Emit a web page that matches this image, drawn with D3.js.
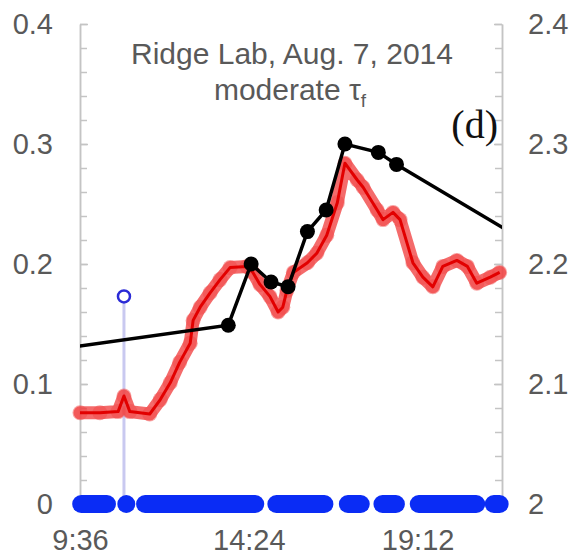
<!DOCTYPE html>
<html>
<head>
<meta charset="utf-8">
<script src="https://cdn.jsdelivr.net/npm/d3@7"></script>
<style>
    body { margin: 0; background: #fff; }
    svg { display: block; font-family: "Liberation Sans", Arial, sans-serif; }
</style>
</head>
<body>
<div class="chart"></div>
<script>
/*-------------------------------data-------------------------------*/

// red trace, left axis
const redTimes = ["9:36", "10:10", "10:41", "10:51", "11:01", "11:35", "11:53", "12:10", "12:26", "12:44",
    "12:49", "13:01", "13:18", "13:35", "13:52", "14:21", "14:31", "14:43", "15:00", "15:14",
    "15:22", "15:29", "15:40", "16:04", "16:20", "16:37", "16:55", "17:08", "17:29", "17:39",
    "18:03", "18:13", "18:30", "18:42", "19:04", "19:21", "19:38", "19:55", "20:19", "20:37",
    "20:53", "21:16", "21:32"]
const redValues = [0.076, 0.076, 0.077, 0.090, 0.077, 0.075, 0.087, 0.101, 0.118, 0.134,
    0.153, 0.164, 0.176, 0.187, 0.197, 0.198, 0.193, 0.183, 0.173, 0.160,
    0.164, 0.178, 0.193, 0.201, 0.209, 0.224, 0.251, 0.284, 0.270, 0.264,
    0.245, 0.237, 0.243, 0.237, 0.201, 0.189, 0.181, 0.198, 0.203, 0.198,
    0.184, 0.189, 0.193]

// black trace, right axis (first and last points sit outside the plot)
const blackTimes = ["8:00", "13:49", "14:28", "15:02", "15:31", "16:04", "16:36", "17:08", "18:05", "18:36", "22:30"]
const blackValues = [2.125, 2.149, 2.200, 2.185, 2.181, 2.227, 2.245, 2.300, 2.293, 2.283, 2.215]

// blue markers at zero, as runs of consecutive samples
const blueRunStart = ["9:38", "10:55", "11:27", "15:11", "17:13", "18:12", "19:14", "21:22"]
const blueRunEnd = ["10:22", "10:55", "14:35", "16:33", "17:35", "18:35", "20:52", "21:32"]

// single open blue point
const blueOutlierTime = "10:51"
const blueOutlierValue = 0.173

const xTicks = ["9:36", "14:24", "19:12"]
const leftTicks = [0, 0.1, 0.2, 0.3, 0.4]
const rightTicks = [2, 2.1, 2.2, 2.3, 2.4]

/*-------------------------------init-------------------------------*/

const size = { width: 570, height: 555 }
const plot = { left: 80, right: 502, top: 24, bottom: 504 }

const toHours = (s) => {
    const p = s.split(":")
    return +p[0] + p[1] / 60
}
const fmtTime = (h) => {
    const hh = Math.floor(h + 1e-6)
    const mm = Math.round((h - hh) * 60)
    return `${hh}:${String(mm).padStart(2, "0")}`
}

const svg = d3.select(".chart").append("svg")
    .attr("width", size.width)
    .attr("height", size.height)

svg.append("defs").append("clipPath").attr("id", "plotClip")
    .append("rect")
    .attr("x", plot.left)
    .attr("y", plot.top - 20)
    .attr("width", plot.right - plot.left)
    .attr("height", plot.bottom - plot.top + 40)

const x = d3.scaleLinear().domain([9.6, 21.6]).range([plot.left, plot.right])
const yLeft = d3.scaleLinear().domain([0, 0.4]).range([plot.bottom, plot.top])
const yRight = d3.scaleLinear().domain([2, 2.4]).range([plot.bottom, plot.top])

/*-------------------------------axes-------------------------------*/

const axisColor = "#c4c4c4"
const labelColor = "#595959"

const styleAxis = (g) => {
    g.select(".domain").attr("stroke", axisColor).attr("stroke-width", 1.5)
    g.selectAll(".tick line").attr("stroke", axisColor).attr("stroke-width", 1.5)
    g.selectAll(".tick text").attr("fill", labelColor).style("font-size", "29px")
}

// minor ticks
svg.append("g")
    .attr("transform", `translate(${plot.left},0)`)
    .call(d3.axisLeft(yLeft).tickValues(d3.range(0, 0.401, 0.02)).tickSize(-7).tickSizeOuter(0).tickFormat(""))
    .call(styleAxis)
svg.append("g")
    .attr("transform", `translate(${plot.right},0)`)
    .call(d3.axisRight(yRight).tickValues(d3.range(2, 2.401, 0.02)).tickSize(-7).tickSizeOuter(0).tickFormat(""))
    .call(styleAxis)

svg.append("g")
    .attr("transform", `translate(${plot.left},0)`)
    .call(d3.axisLeft(yLeft).tickValues(leftTicks).tickSize(-8).tickSizeOuter(0).tickPadding(27).tickFormat(d3.format("~g")))
    .call(styleAxis)
svg.append("g")
    .attr("transform", `translate(${plot.right},0)`)
    .call(d3.axisRight(yRight).tickValues(rightTicks).tickSize(-8).tickSizeOuter(0).tickPadding(26).tickFormat(d3.format("~g")))
    .call(styleAxis)

const xAxis = svg.append("g")
    .attr("transform", `translate(0,${plot.bottom})`)
    .call(d3.axisBottom(x).tickValues(xTicks.map(toHours)).tickSize(0).tickPadding(25).tickFormat(fmtTime))
    .call(styleAxis)
xAxis.select(".domain").remove()

/*-------------------------------title-------------------------------*/

svg.append("text")
    .attr("x", 292)
    .attr("y", 64)
    .attr("text-anchor", "middle")
    .attr("fill", labelColor)
    .style("font-size", "30px")
    .text("Ridge Lab, Aug. 7, 2014")

const sub = svg.append("text")
    .attr("x", 290)
    .attr("y", 100)
    .attr("text-anchor", "middle")
    .attr("fill", labelColor)
    .style("font-size", "30px")
sub.append("tspan").text("moderate τ")
sub.append("tspan").attr("dy", 7).style("font-size", "19px").text("f")

svg.append("text")
    .attr("x", 498)
    .attr("y", 138)
    .attr("text-anchor", "end")
    .attr("fill", "#111")
    .style("font-family", "'Liberation Serif', 'Times New Roman', serif")
    .style("font-size", "40px")
    .text("(d)")

/*-------------------------------series-------------------------------*/

const outX = x(toHours(blueOutlierTime))

// thin vertical line under the open blue point
svg.append("line")
    .attr("x1", outX).attr("x2", outX)
    .attr("y1", yLeft(blueOutlierValue) + 7)
    .attr("y2", plot.bottom)
    .attr("stroke", "#c9c9f0")
    .attr("stroke-width", 3)

const redData = redTimes.map((t, i) => ({ t: toHours(t), v: redValues[i] }))
const redLine = d3.line().x(d => x(d.t)).y(d => yLeft(d.v))

svg.append("path")
    .datum(redData)
    .attr("d", redLine)
    .attr("fill", "none")
    .attr("stroke", "#f03a3a")
    .attr("stroke-opacity", 0.75)
    .attr("stroke-width", 13)
    .attr("stroke-linejoin", "round")
    .attr("stroke-linecap", "round")

svg.append("g")
    .selectAll("circle")
    .data(redData)
    .enter()
    .append("circle")
    .attr("cx", d => x(d.t))
    .attr("cy", d => yLeft(d.v))
    .attr("r", 7.5)
    .attr("fill", "#f24a4a")
    .attr("fill-opacity", 0.5)

svg.append("path")
    .datum(redData)
    .attr("d", redLine)
    .attr("fill", "none")
    .attr("stroke", "#e20000")
    .attr("stroke-width", 3)
    .attr("stroke-linejoin", "round")

// black series
const blackData = blackTimes.map((t, i) => ({ t: toHours(t), v: blackValues[i] }))
const blackG = svg.append("g").attr("clip-path", "url(#plotClip)")

blackG.append("path")
    .datum(blackData)
    .attr("d", d3.line().x(d => x(d.t)).y(d => yRight(d.v)))
    .attr("fill", "none")
    .attr("stroke", "#000")
    .attr("stroke-width", 3.5)

blackG.selectAll("circle")
    .data(blackData)
    .enter()
    .append("circle")
    .attr("cx", d => x(d.t))
    .attr("cy", d => yRight(d.v))
    .attr("r", 7.5)
    .attr("fill", "#000")

// blue open point
svg.append("circle")
    .attr("cx", outX)
    .attr("cy", yLeft(blueOutlierValue))
    .attr("r", 6)
    .attr("fill", "none")
    .attr("stroke", "#2b2bd6")
    .attr("stroke-width", 2.5)

// blue markers along zero
svg.append("g")
    .selectAll("line")
    .data(blueRunStart.map((s, i) => ({ a: toHours(s), b: toHours(blueRunEnd[i]) })))
    .enter()
    .append("line")
    .attr("x1", d => x(d.a))
    .attr("x2", d => x(d.b))
    .attr("y1", yLeft(0))
    .attr("y2", yLeft(0))
    .attr("stroke", "#0a2cf5")
    .attr("stroke-width", 18)
    .attr("stroke-linecap", "round")
</script>
</body>
</html>
